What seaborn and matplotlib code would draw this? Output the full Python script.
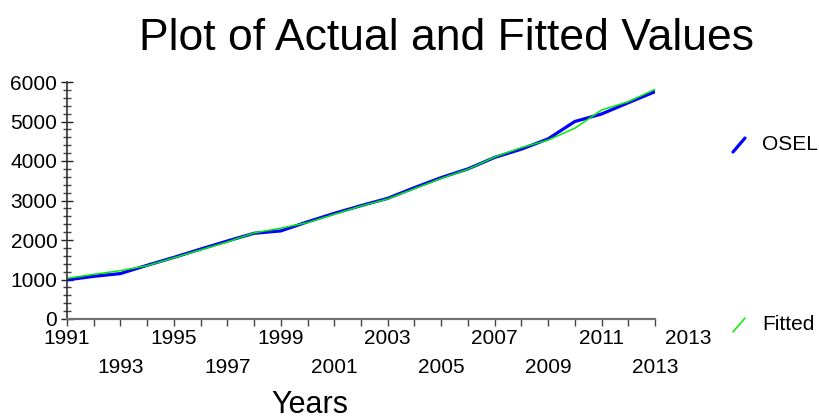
import matplotlib
matplotlib.use("Agg")
import matplotlib.pyplot as plt
from matplotlib.lines import Line2D
from matplotlib.ticker import MultipleLocator, FixedLocator
import seaborn as sns

# data
years = list(range(1991, 2014))
osel = [990, 1080, 1150, 1360, 1560, 1770, 1975, 2170, 2230, 2460, 2675, 2870,
        3055, 3325, 3580, 3800, 4090, 4300, 4560, 5000, 5190, 5475, 5755]
fitted = [1030, 1130, 1225, 1350, 1550, 1750, 1950, 2180, 2300, 2440, 2650, 2860,
          3040, 3300, 3560, 3790, 4100, 4340, 4530, 4830, 5290, 5500, 5815]
series_names = ["OSEL", "Fitted"]
series_colors = ["#0000ff", "#00ee00"]
top_row = years[0::4]
bottom_row = years[2::4]


def main():
    sns.set_style("white")
    plt.rcParams["font.family"] = ["Liberation Sans", "DejaVu Sans"]
    plt.rcParams["text.color"] = "black"
    plt.rcParams["xtick.labelcolor"] = "black"
    plt.rcParams["ytick.labelcolor"] = "black"

    W, H = 820, 420
    fig = plt.figure(figsize=(W / 100, H / 100), dpi=100)
    ax = fig.add_axes([67 / W, 1 - 319 / H, (655 - 67) / W, (319 - 82) / H])

    sns.lineplot(x=years, y=osel, ax=ax, color=series_colors[0], lw=2.3)
    sns.lineplot(x=years, y=fitted, ax=ax, color=series_colors[1], lw=1.1)

    ax.set_xlim(years[0], years[-1])
    ax.set_ylim(0, 6000)

    for s in ["top", "right"]:
        ax.spines[s].set_visible(False)
    ax.spines["left"].set_color("#333333")
    ax.spines["bottom"].set_color("#707070")
    ax.spines["left"].set_linewidth(1.2)
    ax.spines["bottom"].set_linewidth(1.6)

    # y axis: crossing ticks with minors every 200
    ax.yaxis.set_major_locator(MultipleLocator(1000))
    ax.yaxis.set_minor_locator(MultipleLocator(200))
    ax.tick_params(axis="y", which="major", direction="inout", length=8,
                   width=1, color="#222222", labelsize=15, pad=3, left=True)
    ax.tick_params(axis="y", which="minor", direction="inout", length=6,
                   width=1, color="#444444", left=True)

    # x axis: a tick every year, labels staggered in two rows
    ax.xaxis.remove_overlapping_locs = False
    ax.xaxis.set_major_locator(FixedLocator(years))
    ax.set_xticklabels([str(y) if y in top_row else "" for y in years])
    ax.xaxis.set_minor_locator(FixedLocator(bottom_row))
    ax.set_xticklabels([str(y) for y in bottom_row], minor=True)
    ax.tick_params(axis="x", which="major", direction="out", length=5, width=1,
                   color="#444444", labelsize=15, pad=2, bottom=True)
    ax.tick_params(axis="x", which="minor", direction="out", length=0,
                   labelsize=15, pad=28, bottom=True)
    fig.text(665 / W, 1 - 338 / H, str(years[-1]), fontsize=15,
             ha="left", va="center")

    ax.set_xlabel("")
    ax.set_ylabel("")

    fig.text(447 / W, 1 - 50 / H, "Plot of Actual and Fitted Values",
             fontsize=32, ha="center", va="baseline")
    fig.text(310 / W, 1 - 413 / H, "Years", fontsize=22,
             ha="center", va="baseline")

    # legend: short slanted strokes with labels on the right
    key_y = [145, 325]
    key_w = [2.3, 1.1]
    for name, col, yc, lw in zip(series_names, series_colors, key_y, key_w):
        fig.add_artist(Line2D([733 / W, 745 / W],
                              [1 - (yc + 7) / H, 1 - (yc - 7) / H],
                              transform=fig.transFigure, color=col, lw=lw))
        fig.text(762 / W, 1 - yc / H, name, fontsize=15,
                 ha="left", va="center")

    fig.savefig("out.png", dpi=100)


if __name__ == "__main__":
    main()
